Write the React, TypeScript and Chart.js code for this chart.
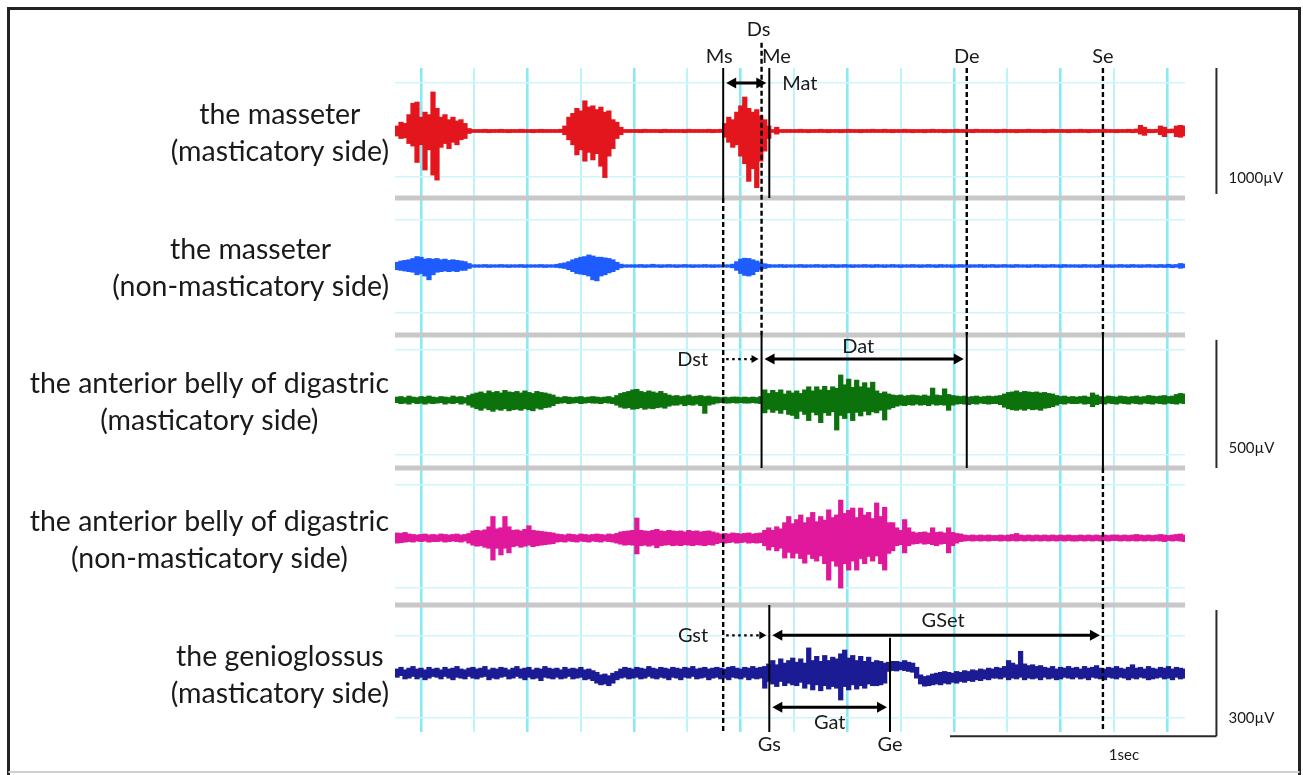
import React, { useEffect, useRef } from 'react';
import { Chart, registerables } from 'chart.js';

Chart.register(...registerables);

// Sampling grid of the recording (seconds): one min/max column every SAMPLE_STEP
const SAMPLE_START = -0.09;
const SAMPLE_STEP = 0.015;

// ---- EMG envelopes (µV): upper and lower value of each column ----
const masseterMastUpper = [
  40, 70, 60, 130, 220, 230, 110, 150, 130, 310,
  180, 110, 130, 90, 110, 80, 90, 60, 20, 12,
  12, 12, 14, 12, 12, 12, 14, 12, 12, 12,
  12, 14, 12, 12, 12, 12, 14, 12, 12, 12,
  12, 14, 40, 110, 140, 180, 160, 240, 190, 200,
  170, 190, 150, 160, 90, 70, 30, 12, 12, 12,
  12, 12, 14, 12, 12, 12, 12, 14, 12, 12,
  12, 12, 12, 14, 12, 12, 12, 12, 14, 12,
  12, 14, 60, 110, 90, 150, 200, 270, 180, 150,
  170, 120, 90, 40, 12, 30, 12, 12, 12, 12,
  12, 14, 12, 12, 12, 12, 14, 12, 12, 12,
  12, 12, 12, 14, 12, 12, 12, 12, 12, 14,
  12, 12, 14, 12, 12, 12, 12, 14, 12, 12,
  12, 12, 12, 12, 14, 12, 12, 12, 12, 12,
  14, 12, 12, 12, 12, 14, 12, 12, 12, 12,
  12, 12, 14, 12, 12, 12, 12, 12, 14, 12,
  12, 12, 12, 12, 14, 12, 12, 12, 12, 12,
  12, 14, 12, 12, 12, 12, 12, 14, 12, 12,
  12, 12, 12, 14, 12, 16, 45, 30, 14, 12,
  14, 40, 30, 14, 16, 40, 45, 40,
];
const masseterMastLower = [
  -40, -60, -55, -100, -120, -250, -110, -310, -150, -350,
  -390, -130, -100, -140, -90, -110, -70, -60, -20, -12,
  -12, -12, -12, -14, -12, -12, -12, -12, -14, -12,
  -12, -12, -12, -12, -14, -12, -12, -12, -12, -12,
  -12, -12, -30, -70, -110, -190, -150, -240, -170, -230,
  -180, -280, -370, -200, -140, -60, -30, -12, -12, -12,
  -12, -14, -12, -12, -12, -12, -14, -12, -12, -12,
  -12, -12, -14, -12, -12, -12, -12, -12, -12, -14,
  -12, -12, -50, -90, -130, -110, -200, -260, -400, -300,
  -450, -240, -160, -60, -12, -25, -12, -12, -12, -12,
  -12, -12, -12, -14, -12, -12, -12, -12, -14, -12,
  -12, -14, -12, -12, -12, -12, -14, -12, -12, -12,
  -12, -12, -12, -12, -14, -12, -12, -12, -12, -14,
  -12, -12, -14, -12, -12, -12, -12, -14, -12, -12,
  -12, -12, -12, -12, -14, -12, -12, -12, -12, -12,
  -14, -12, -12, -12, -12, -14, -12, -12, -12, -12,
  -12, -12, -14, -12, -12, -12, -12, -12, -14, -12,
  -12, -12, -12, -14, -12, -12, -12, -12, -12, -12,
  -14, -12, -12, -12, -14, -12, -25, -35, -14, -14,
  -12, -30, -45, -16, -14, -45, -50, -40,
];

const masseterNonMastUpper = [
  30, 40, 45, 50, 60, 75, 70, 55, 60, 55,
  60, 50, 55, 45, 50, 45, 40, 35, 20, 10,
  10, 10, 12, 10, 10, 10, 12, 10, 10, 10,
  10, 12, 10, 10, 10, 10, 12, 10, 10, 10,
  14, 20, 25, 35, 50, 60, 70, 75, 88, 80,
  70, 70, 65, 60, 50, 30, 15, 10, 10, 10,
  10, 12, 10, 10, 14, 10, 10, 10, 12, 10,
  10, 10, 12, 10, 10, 10, 10, 12, 10, 10,
  10, 10, 10, 10, 15, 35, 55, 62, 60, 50,
  40, 25, 18, 12, 10, 10, 12, 10, 10, 10,
  10, 12, 10, 10, 10, 12, 10, 10, 10, 12,
  10, 10, 12, 10, 10, 10, 10, 12, 10, 10,
  12, 10, 10, 10, 12, 10, 10, 10, 10, 12,
  10, 10, 10, 12, 10, 10, 12, 10, 10, 10,
  10, 12, 10, 10, 10, 10, 12, 10, 10, 12,
  10, 10, 12, 10, 10, 12, 10, 10, 10, 10,
  12, 10, 10, 10, 12, 10, 10, 12, 10, 10,
  10, 10, 12, 10, 10, 10, 12, 10, 10, 10,
  10, 12, 10, 10, 12, 10, 10, 10, 12, 10,
  10, 12, 10, 14, 10, 12, 20, 16,
];
const masseterNonMastLower = [
  -30, -35, -40, -45, -50, -70, -60, -80, -110, -70,
  -50, -45, -40, -45, -40, -45, -35, -35, -20, -10,
  -10, -10, -10, -12, -10, -10, -10, -10, -12, -10,
  -10, -10, -12, -10, -10, -10, -10, -12, -10, -10,
  -12, -16, -20, -30, -45, -60, -65, -70, -80, -110,
  -118, -80, -70, -55, -45, -30, -15, -10, -10, -10,
  -10, -10, -12, -10, -10, -10, -12, -10, -10, -10,
  -12, -10, -10, -10, -12, -10, -10, -10, -10, -12,
  -10, -10, -10, -10, -15, -35, -60, -75, -80, -70,
  -45, -30, -20, -12, -10, -10, -10, -12, -10, -10,
  -10, -10, -12, -10, -10, -10, -10, -12, -10, -10,
  -12, -10, -10, -10, -12, -10, -10, -10, -10, -12,
  -10, -10, -12, -10, -10, -10, -12, -10, -10, -10,
  -10, -12, -10, -10, -10, -12, -10, -10, -10, -12,
  -10, -10, -10, -12, -10, -10, -10, -12, -10, -10,
  -12, -10, -10, -10, -12, -10, -10, -10, -12, -10,
  -10, -10, -12, -10, -10, -10, -12, -10, -10, -10,
  -10, -12, -10, -10, -10, -12, -10, -10, -10, -12,
  -10, -10, -10, -12, -10, -10, -12, -10, -10, -10,
  -12, -10, -12, -10, -14, -10, -18, -14,
];

const digastricMastUpper = [
  12, 14, 10, 16, 12, 10, 14, 12, 16, 12,
  10, 14, 12, 10, 16, 12, 14, 10, 18, 24,
  28, 32, 26, 36, 30, 34, 28, 38, 32, 30,
  34, 28, 36, 30, 26, 34, 30, 28, 24, 20,
  12, 10, 14, 12, 10, 12, 14, 10, 12, 14,
  12, 10, 12, 14, 10, 18, 26, 30, 34, 40,
  42, 34, 30, 36, 32, 28, 34, 26, 20, 16,
  18, 14, 16, 20, 14, 16, 18, 14, 16, 12,
  12, 10, 12, 10, 12, 12, 10, 12, 10, 12,
  10, 14, 40, 26, 38, 30, 40, 24, 36, 28,
  36, 26, 40, 52, 36, 52, 40, 54, 38, 52,
  46, 98, 60, 82, 50, 78, 52, 68, 48, 70,
  36, 26, 32, 24, 20, 18, 20, 16, 18, 20,
  18, 16, 20, 16, 47, 20, 18, 44, 22, 18,
  16, 14, 16, 12, 14, 16, 12, 14, 16, 14,
  16, 18, 24, 30, 32, 36, 30, 34, 32, 30,
  32, 28, 30, 26, 24, 18, 14, 16, 12, 14,
  12, 14, 16, 12, 28, 20, 14, 12, 16, 14,
  12, 16, 14, 12, 14, 16, 12, 14, 18, 16,
  14, 16, 18, 14, 16, 22, 26, 24,
];
const digastricMastLower = [
  -10, -14, -12, -16, -10, -14, -12, -16, -12, -14,
  -12, -10, -16, -12, -14, -10, -16, -12, -20, -28,
  -34, -40, -32, -38, -44, -36, -40, -34, -42, -38,
  -36, -40, -34, -38, -42, -32, -36, -30, -28, -22,
  -14, -12, -10, -14, -12, -10, -14, -12, -10, -12,
  -12, -14, -10, -12, -14, -20, -28, -32, -30, -36,
  -34, -30, -36, -32, -34, -30, -28, -32, -24, -20,
  -20, -16, -22, -18, -20, -16, -22, -52, -20, -16,
  -12, -10, -12, -12, -10, -12, -10, -12, -12, -10,
  -12, -14, -50, -36, -48, -40, -52, -38, -56, -60,
  -72, -44, -56, -80, -48, -58, -88, -50, -60, -46,
  -117, -60, -72, -50, -80, -48, -62, -44, -58, -46,
  -50, -40, -78, -36, -30, -24, -20, -22, -18, -20,
  -16, -20, -18, -22, -16, -20, -18, -20, -40, -20,
  -16, -14, -16, -18, -14, -16, -12, -14, -16, -14,
  -14, -18, -28, -34, -38, -40, -36, -40, -34, -38,
  -36, -40, -32, -30, -26, -20, -14, -16, -12, -14,
  -14, -12, -16, -14, -26, -18, -14, -16, -12, -14,
  -16, -12, -14, -16, -12, -14, -16, -12, -14, -16,
  -12, -14, -16, -12, -14, -16, -12, -14,
];

const digastricNonMastUpper = [
  20, 18, 22, 16, 14, 12, 14, 16, 12, 14,
  12, 16, 14, 12, 14, 16, 12, 14, 18, 28,
  30, 28, 32, 44, 84, 36, 40, 84, 44, 30,
  32, 28, 34, 48, 30, 28, 26, 24, 22, 20,
  16, 14, 12, 16, 14, 12, 16, 14, 12, 14,
  16, 14, 12, 16, 14, 18, 24, 26, 28, 30,
  78, 30, 28, 26, 30, 34, 28, 26, 30, 28,
  26, 28, 24, 30, 26, 28, 24, 26, 28, 24,
  20, 16, 18, 16, 20, 18, 16, 18, 20, 16,
  18, 20, 30, 40, 30, 44, 36, 60, 84, 56,
  72, 90, 60, 80, 100, 64, 84, 70, 110, 80,
  90, 148, 96, 108, 117, 80, 117, 90, 100, 76,
  137, 84, 120, 60, 60, 40, 30, 72, 40, 24,
  20, 22, 24, 20, 40, 22, 24, 20, 40, 22,
  18, 16, 12, 10, 12, 10, 12, 10, 12, 10,
  10, 12, 10, 12, 14, 18, 12, 10, 12, 10,
  12, 10, 12, 10, 12, 10, 12, 10, 12, 10,
  10, 12, 10, 12, 10, 12, 10, 12, 10, 12,
  12, 10, 12, 10, 12, 14, 12, 10, 12, 10,
  12, 14, 12, 10, 12, 14, 16, 12,
];
const digastricNonMastLower = [
  -20, -18, -16, -14, -16, -12, -14, -12, -16, -14,
  -14, -12, -16, -14, -12, -14, -16, -12, -20, -28,
  -32, -30, -36, -40, -86, -40, -66, -40, -58, -34,
  -30, -36, -32, -28, -34, -30, -28, -26, -24, -22,
  -16, -14, -16, -12, -14, -16, -12, -14, -16, -12,
  -14, -16, -12, -14, -16, -20, -24, -28, -26, -28,
  -62, -30, -28, -32, -28, -38, -30, -28, -26, -30,
  -28, -30, -26, -28, -30, -26, -28, -30, -26, -28,
  -22, -18, -20, -18, -16, -20, -18, -16, -20, -18,
  -20, -18, -30, -47, -34, -50, -40, -78, -56, -78,
  -60, -80, -98, -64, -80, -90, -70, -100, -164, -90,
  -110, -195, -100, -125, -90, -125, -80, -100, -72, -90,
  -70, -100, -125, -60, -50, -30, -26, -58, -30, -24,
  -22, -20, -24, -22, -26, -30, -24, -22, -58, -30,
  -20, -14, -12, -10, -12, -10, -12, -10, -12, -10,
  -10, -12, -10, -12, -10, -12, -10, -12, -10, -12,
  -10, -12, -10, -12, -10, -12, -10, -12, -10, -12,
  -12, -10, -12, -10, -12, -10, -12, -10, -12, -10,
  -10, -12, -10, -12, -10, -12, -10, -12, -10, -12,
  -10, -12, -14, -10, -12, -10, -12, -14,
];

const genioglossusMastUpper = [
  10, 14, 8, 12, 16, 10, 12, 8, 14, 10,
  12, 8, 14, 10, 12, 16, 10, 8, 12, 14,
  10, 12, 16, 8, 12, 10, 14, 12, 8, 12,
  16, 10, 12, 14, 8, 12, 10, 16, 12, 10,
  12, 8, 14, 10, 12, 10, 14, 8, 10, 6,
  2, -4, -2, -6, 0, 4, 10, 14, 12, 10,
  14, 12, 10, 16, 12, 10, 14, 12, 10, 14,
  12, 10, 14, 12, 16, 10, 12, 14, 10, 12,
  14, 12, 10, 14, 16, 12, 10, 14, 12, 16,
  12, 14, 16, 22, 30, 20, 34, 24, 30, 36,
  26, 34, 24, 60, 30, 40, 28, 42, 30, 38,
  34, 46, 55, 36, 42, 30, 40, 28, 38, 26,
  30, 28, 24, 26, 28, 28, 26, 30, 26, 24,
  14, -4, -8, -6, -2, 0, 2, 4, 2, 0,
  4, 2, 6, 4, 8, 6, 10, 8, 12, 10,
  14, 12, 16, 30, 24, 20, 52, 22, 18, 20,
  16, 18, 14, 12, 16, 10, 14, 12, 16, 12,
  14, 10, 16, 12, 14, 18, 12, 10, 14, 12,
  16, 12, 10, 14, 20, 12, 14, 10, 16, 12,
  10, 14, 12, 16, 10, 14, 12, 10,
];
const genioglossusMastLower = [
  -10, -6, -14, -12, -8, -14, -10, -16, -12, -8,
  -10, -14, -8, -12, -16, -10, -12, -14, -8, -12,
  -14, -10, -8, -16, -12, -14, -10, -8, -14, -12,
  -8, -12, -16, -10, -14, -12, -18, -10, -12, -14,
  -10, -14, -12, -8, -14, -12, -10, -16, -14, -18,
  -24, -28, -26, -30, -24, -16, -12, -10, -14, -12,
  -10, -14, -12, -8, -12, -14, -10, -12, -16, -10,
  -12, -16, -10, -12, -8, -14, -12, -10, -16, -12,
  -10, -14, -12, -16, -10, -12, -14, -10, -16, -12,
  -14, -12, -36, -20, -26, -32, -20, -30, -24, -28,
  -30, -22, -36, -26, -40, -28, -42, -30, -38, -32,
  -36, -64, -32, -40, -28, -38, -30, -36, -26, -30,
  -30, -28, -24, 4, 6, 5, 8, 6, 4, 2,
  -12, -26, -31, -30, -28, -26, -28, -24, -26, -22,
  -24, -20, -22, -18, -20, -16, -18, -14, -16, -12,
  -12, -14, -10, -16, -12, -14, -10, -16, -12, -14,
  -12, -16, -10, -14, -12, -16, -14, -10, -12, -14,
  -10, -14, -12, -16, -10, -12, -14, -16, -10, -12,
  -14, -10, -12, -16, -12, -14, -10, -12, -16, -14,
  -12, -10, -14, -12, -16, -10, -14, -12,
];

const channelUpper = [masseterMastUpper, masseterNonMastUpper, digastricMastUpper, digastricNonMastUpper, genioglossusMastUpper];
const channelLower = [masseterMastLower, masseterNonMastLower, digastricMastLower, digastricNonMastLower, genioglossusMastLower];

const channelNames = [
  ['the masseter', '(masticatory side)'],
  ['the masseter', '(non-masticatory side)'],
  ['the anterior belly of digastric', '(masticatory side)'],
  ['the anterior belly of digastric', '(non-masticatory side)'],
  ['the genioglossus', '(masticatory side)'],
];

const channelColors = ['#e3161d', '#1f5cff', '#0c720c', '#e0189c', '#1b1b94'];

// Time grid (s) for the vertical cyan lines
const gridTimes = [0, 0.2, 0.4, 0.6, 0.8, 1.0, 1.2, 1.4, 1.6, 1.8, 2.0, 2.2, 2.4, 2.6, 2.8];

// Event markers (s)
const markerNames = ['Ms', 'Ds', 'Me', 'De', 'Se', 'Gs', 'Ge'];
const markerTimes = [1.134, 1.278, 1.307, 2.048, 2.559, 1.307, 1.76];

// Scale-bar values
const amplitudeBarLabels = ['1000µV', '500µV', '300µV'];
const amplitudeBarRanges = [[-500, 500], [-265, 235], [-150, 150]];
const timeBarRange = [1.985, 2.985];
const timeBarLabel = '1sec';

// ---- axis / layout configuration (not data) ----
const axisCfg = [
  { min: -532, max: 500, grid: [381, -365], h: 130 },
  { min: -548, max: 540, grid: [365, -373], h: 137 },
  { min: -265, max: 254, grid: [195, -215], h: 133 },
  { min: -261, max: 273, grid: [207, -195], h: 137 },
  { min: -140, max: 162, grid: [90, -107], h: 127 },
];

const FONT = 'Lato, "Noto Sans", sans-serif';

const mIdx = (n: string) => markerNames.indexOf(n);

// marker line segments: [name, [topChannel, topValue|null], [bottomChannel, bottomValue|null], dashed]
const markerSegments: [string, [number, number | null], [number, number | null], boolean][] = [
  ['Ms', [0, null], [0, null], false],
  ['Ms', [1, null], [4, null], true],
  ['Ds', [0, 700], [1, null], true],
  ['Ds', [2, null], [2, null], false],
  ['Me', [0, null], [0, null], false],
  ['De', [0, null], [1, null], true],
  ['De', [2, null], [2, null], false],
  ['Se', [0, null], [1, null], true],
  ['Se', [2, null], [2, null], false],
  ['Se', [3, null], [4, null], true],
  ['Gs', [4, null], [4, null], false],
  ['Ge', [4, 84], [4, null], false],
];

// arrows: [label, from, to, channel, value, dotted, headStart, headEnd]
const arrowDefs: [string, string, string, number, number, boolean, boolean, boolean][] = [
  ['Mat', 'Ms', 'Me', 0, 381, false, true, true],
  ['Dst', 'Ms', 'Ds', 2, 160, true, false, true],
  ['Dat', 'Ds', 'De', 2, 160, false, true, true],
  ['Gst', 'Ms', 'Gs', 4, 90, true, false, true],
  ['GSet', 'Gs', 'Se', 4, 90, false, true, true],
  ['Gat', 'Gs', 'Ge', 4, -81, false, true, true],
];

function drawArrow(ctx: CanvasRenderingContext2D, x1: number, x2: number, y: number, dotted: boolean, hs: boolean, he: boolean) {
  const inset = 3;
  const hl = dotted ? 7 : 10;
  const hw = dotted ? 4 : 5.5;
  const a = x1 + inset;
  const b = x2 - inset;
  ctx.save();
  ctx.strokeStyle = '#000';
  ctx.fillStyle = '#000';
  ctx.lineWidth = dotted ? 2.2 : 3;
  ctx.setLineDash(dotted ? [2.5, 3.5] : []);
  ctx.beginPath();
  ctx.moveTo(hs ? a + hl - 1 : a, y);
  ctx.lineTo(he ? b - hl + 1 : b, y);
  ctx.stroke();
  ctx.setLineDash([]);
  if (hs) {
    ctx.beginPath();
    ctx.moveTo(a, y);
    ctx.lineTo(a + hl, y - hw);
    ctx.lineTo(a + hl, y + hw);
    ctx.closePath();
    ctx.fill();
  }
  if (he) {
    ctx.beginPath();
    ctx.moveTo(b, y);
    ctx.lineTo(b - hl, y - hw);
    ctx.lineTo(b - hl, y + hw);
    ctx.closePath();
    ctx.fill();
  }
  ctx.restore();
}

function text(ctx: CanvasRenderingContext2D, s: string, x: number, y: number, size: number, align: CanvasTextAlign = 'center') {
  ctx.save();
  ctx.font = `${size}px ${FONT}`;
  ctx.fillStyle = '#1a1a1a';
  ctx.textAlign = align;
  ctx.textBaseline = 'middle';
  ctx.fillText(s, x, y);
  ctx.restore();
}

const emgPlugin = {
  id: 'emgDecor',
  beforeDatasetsDraw(chart: any) {
    const { ctx, chartArea } = chart;
    ctx.save();
    ctx.strokeStyle = '#c8c8c8';
    ctx.lineWidth = 5;
    for (let k = 0; k < 4; k++) {
      const y = chart.scales['y' + k].bottom;
      ctx.beginPath();
      ctx.moveTo(chartArea.left, y);
      ctx.lineTo(chartArea.right, y);
      ctx.stroke();
    }
    ctx.restore();
  },
  afterDatasetsDraw(chart: any) {
    const { ctx, chartArea, scales } = chart;
    const xs = scales.x;
    const mx = (n: string) => xs.getPixelForValue(markerTimes[mIdx(n)]);
    const yAt = (ch: number, v: number | null, top: boolean) => {
      const s = scales['y' + ch];
      if (v === null) return top ? s.top : s.bottom;
      return s.getPixelForValue(v);
    };

    for (const [name, t, b, dashed] of markerSegments) {
      const x = mx(name);
      ctx.save();
      ctx.strokeStyle = '#000';
      ctx.lineWidth = dashed ? 2.4 : 2;
      ctx.setLineDash(dashed ? [5, 3] : []);
      ctx.beginPath();
      ctx.moveTo(x, yAt(t[0], t[1], true));
      ctx.lineTo(x, yAt(b[0], b[1], false));
      ctx.stroke();
      ctx.restore();
    }

    for (const [, from, to, ch, v, dotted, hs, he] of arrowDefs) {
      drawArrow(ctx, mx(from), mx(to), scales['y' + ch].getPixelForValue(v), dotted, hs, he);
    }

    const top = chartArea.top;
    const bottom = chartArea.bottom;
    const lbl = 20;
    text(ctx, 'Ds', mx('Ds') - 3, top - 38, lbl);
    text(ctx, 'Ms', mx('Ms') - 4, top - 11, lbl);
    text(ctx, 'Me', mx('Me') + 7, top - 11, lbl);
    text(ctx, 'De', mx('De'), top - 11, lbl);
    text(ctx, 'Se', mx('Se'), top - 11, lbl);
    text(ctx, 'Gs', mx('Gs'), bottom + 13, lbl);
    text(ctx, 'Ge', mx('Ge'), bottom + 13, lbl);

    const y0 = scales.y0, y2 = scales.y2, y4 = scales.y4;
    text(ctx, 'Mat', mx('Me') + 13, y0.getPixelForValue(381) + 1, lbl, 'left');
    text(ctx, 'Dst', mx('Ms') - 15, y2.getPixelForValue(160), lbl, 'right');
    text(ctx, 'Dat', (mx('Ds') + mx('De')) / 2 - 6, y2.getPixelForValue(160) - 13, lbl);
    text(ctx, 'Gst', mx('Ms') - 15, y4.getPixelForValue(90), lbl, 'right');
    text(ctx, 'GSet', (mx('Gs') + mx('Se')) / 2 + 7, y4.getPixelForValue(90) - 15, lbl);
    text(ctx, 'Gat', (mx('Gs') + mx('Ge')) / 2, y4.getPixelForValue(-81) + 15, lbl);

    const barX = xs.getPixelForValue(timeBarRange[1]);
    const barCh = [0, 2, 4];
    ctx.save();
    ctx.strokeStyle = '#2a2a2a';
    ctx.lineWidth = 2;
    barCh.forEach((ch, i) => {
      const s = scales['y' + ch];
      ctx.beginPath();
      ctx.moveTo(barX, s.getPixelForValue(amplitudeBarRanges[i][1]));
      ctx.lineTo(barX, s.getPixelForValue(amplitudeBarRanges[i][0]));
      ctx.stroke();
    });
    const tbY = y4.getPixelForValue(amplitudeBarRanges[2][0]);
    ctx.beginPath();
    ctx.moveTo(xs.getPixelForValue(timeBarRange[0]), tbY);
    ctx.lineTo(barX, tbY);
    ctx.stroke();
    ctx.restore();
    text(ctx, amplitudeBarLabels[0], barX + 12, scales.y0.getPixelForValue(-373), 15, 'left');
    text(ctx, amplitudeBarLabels[1], barX + 12, scales.y2.getPixelForValue(-187), 15, 'left');
    text(ctx, amplitudeBarLabels[2], barX + 12, scales.y4.getPixelForValue(-107), 15, 'left');
    text(ctx, timeBarLabel, xs.getPixelForValue(2.638), tbY + 19, 15);
  },
  afterDraw(chart: any) {
    const { ctx, scales } = chart;
    const size = 28.5;
    ctx.save();
    ctx.font = `${size}px ${FONT}`;
    const right = 389;
    channelNames.forEach((lines, k) => {
      const base = scales['y' + k].getPixelForValue(0);
      const w = Math.max(...lines.map((l) => ctx.measureText(l).width));
      const cx = right - w / 2;
      text(ctx, lines[0], cx, base - 16, size);
      text(ctx, lines[1], cx, base + 21, size);
    });
    ctx.restore();
    ctx.save();
    ctx.strokeStyle = '#222';
    ctx.lineWidth = 3;
    ctx.beginPath();
    ctx.moveTo(8.5, 775);
    ctx.lineTo(8.5, 8.5);
    ctx.lineTo(1299.5, 8.5);
    ctx.lineTo(1299.5, 775);
    ctx.stroke();
    ctx.strokeStyle = '#cfcfcf';
    ctx.lineWidth = 2;
    ctx.beginPath();
    ctx.moveTo(8.5, 772);
    ctx.lineTo(1299.5, 772);
    ctx.stroke();
    ctx.restore();
  },
};

export default function App() {
  const ref = useRef<HTMLCanvasElement>(null);
  useEffect(() => {
    if (!ref.current) return;
    const yScales: any = {};
    axisCfg.forEach((a, k) => {
      yScales['y' + k] = {
        type: 'linear',
        position: 'left',
        stack: 'emg',
        stackWeight: a.h,
        weight: 10 - k,
        min: a.min,
        max: a.max,
        afterBuildTicks: (s: any) => {
          s.ticks = a.grid.map((v) => ({ value: v }));
        },
        grid: { color: '#cff5fa', lineWidth: 1.5, drawTicks: false },
        ticks: { display: false },
        border: { display: false },
      };
    });
    const chart = new Chart(ref.current, {
      type: 'line',
      data: {
        datasets: channelUpper.map((up, k) => ({
          type: 'bar',
          data: up.map((hi, i) => ({ x: SAMPLE_START + i * SAMPLE_STEP, y: [channelLower[k][i], hi] })),
          yAxisID: 'y' + k,
          backgroundColor: channelColors[k],
          borderWidth: 0,
          barThickness: 4.6,
          grouped: false,
        })),
      },
      options: {
        animation: false,
        responsive: false,
        devicePixelRatio: 1,
        layout: { padding: { left: 395, top: 68, right: 118, bottom: 43 } },
        plugins: { legend: { display: false }, tooltip: { enabled: false } },
        events: [],
        scales: {
          x: {
            type: 'linear',
            min: -0.0976,
            max: 2.867,
            offset: false,
            afterBuildTicks: (s: any) => {
              s.ticks = gridTimes.map((v) => ({ value: v }));
            },
            grid: {
              offset: false,
              color: (c: any) => (c.index % 2 === 0 ? '#86ebf5' : '#bdf3f9'),
              lineWidth: (c: any) => (c.index % 2 === 0 ? 2.6 : 2),
              drawTicks: false,
            },
            ticks: { display: false },
            border: { display: false },
          },
          ...yScales,
        },
      },
      plugins: [emgPlugin],
    } as any);
    return () => chart.destroy();
  }, []);
  return (
    <div style={{ position: 'fixed', left: 0, top: 0, width: 1303, height: 775, background: '#fff' }}>
      <canvas ref={ref} width={1303} height={775} style={{ display: 'block' }} />
    </div>
  );
}
